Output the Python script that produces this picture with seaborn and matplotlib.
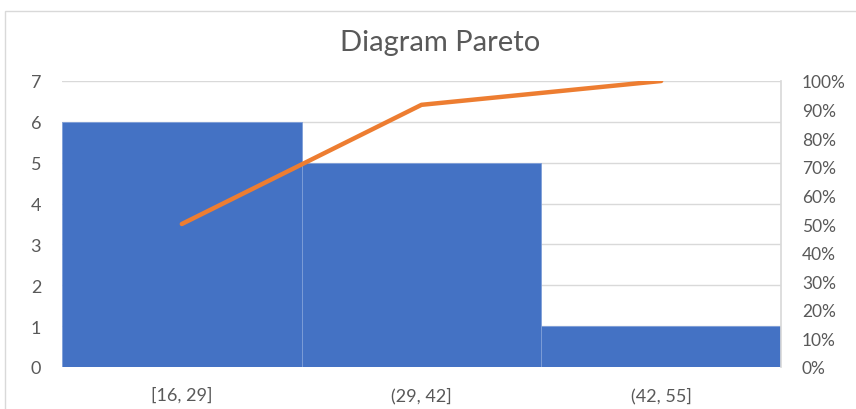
import matplotlib
matplotlib.use("Agg")
import matplotlib.pyplot as plt
import seaborn as sns
import pandas as pd
from matplotlib.ticker import FuncFormatter
from matplotlib.patches import Rectangle

categories = ["[16, 29]", "(29, 42]", "(42, 55]"]
counts = [6, 5, 1]
cumulative_pct = [50.0, 91.67, 100.0]
left_ticks = [0, 1, 2, 3, 4, 5, 6, 7]
right_ticks = [0, 10, 20, 30, 40, 50, 60, 70, 80, 90, 100]

sns.set_theme(style="white")
plt.rcParams["font.family"] = ["Lato", "DejaVu Sans"]

df = pd.DataFrame({"cat": categories, "count": counts, "cum": cumulative_pct})

fig = plt.figure(figsize=(8.56, 4.10), dpi=100)
ax = fig.add_axes([62/856, 1-368/410, (781-62)/856, (368-82)/410])

grid_c = "#D9D9D9"
text_c = "#595959"

sns.barplot(data=df, x="cat", y="count", ax=ax, color="#4472C4", width=1.0,
            saturation=1, edgecolor="#7F9FD8", linewidth=0.6, zorder=2)
ax.set_ylim(0, 7)
ax.set_xlim(-0.5, 2.5)
ax.set_yticks(left_ticks)
ax.yaxis.grid(True, color=grid_c, linewidth=1, zorder=0)
ax.set_axisbelow(True)
ax.set_xlabel("")
ax.set_ylabel("")
for s in ["top", "left", "bottom"]:
    ax.spines[s].set_visible(False)
ax.spines["right"].set_visible(True)
ax.spines["right"].set_color(grid_c)
ax.tick_params(axis="both", length=0, colors=text_c, labelsize=13)
ax.tick_params(axis="y", pad=15)
ax.tick_params(axis="x", pad=14)

ax2 = ax.twinx()
sns.lineplot(data=df, x="cat", y="cum", ax=ax2, color="#ED7D31", linewidth=3.2,
             sort=False, zorder=3)
ax2.set_ylim(0, 100)
ax2.set_yticks(right_ticks)
ax2.yaxis.set_major_formatter(FuncFormatter(lambda v, p: f"{int(v)}%"))
ax2.set_ylabel("")
ax2.set_xlabel("")
for s in ax2.spines.values():
    s.set_visible(False)
ax2.tick_params(axis="y", length=0, colors=text_c, labelsize=12.5, pad=15)

fig.text(440/856, 1-43/410, "Diagram Pareto", ha="center", va="center",
         fontsize=21, color=text_c)

fig.patches.append(Rectangle((5/856, -0.1), 1.0, 1 - 12/410 + 0.1,
                             transform=fig.transFigure, fill=False,
                             edgecolor="#D9D9D9", linewidth=1))

fig.savefig("out.png", dpi=100)
